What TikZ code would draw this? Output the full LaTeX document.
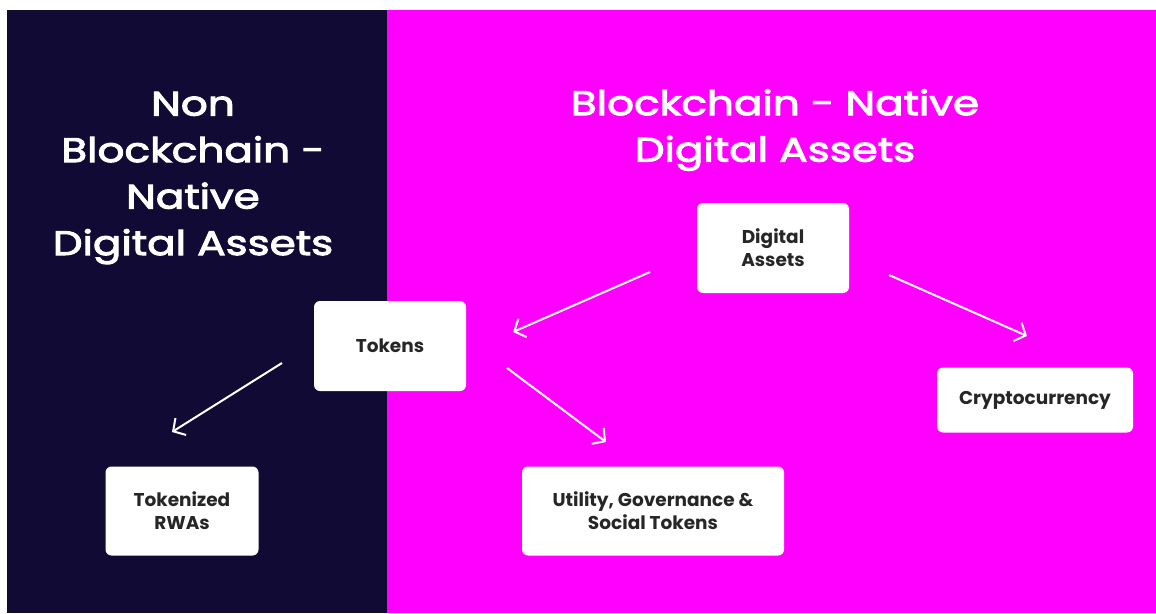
\documentclass[tikz,border=0pt]{standalone}
\usepackage{fontspec}
\setmainfont{Poppins}
\newfontfamily\titlefont{Poppins}[FakeStretch=1.24, FakeBold=3]
\usetikzlibrary{positioning, arrows.meta}

\definecolor{navypanel}{HTML}{100A35}
\definecolor{magentapanel}{HTML}{FF00FF}

\tikzset{
    assetbox/.style={fill=white, rounded corners=6pt, inner sep=0pt, align=center,
        font=\fontsize{18.5}{23}\selectfont\bfseries, text=black!85},
    paneltitle/.style={text=white, align=center, font=\titlefont\fontsize{34}{46.5}\selectfont},
    flowarrow/.style={white, line width=2pt, -{Straight Barb[length=9pt, width=20pt, line width=2pt]}},
}

\begin{document}
\begin{tikzpicture}[x=1pt, y=-1pt]
    \useasboundingbox (0,0) rectangle (1156,613);

    % background panels
    \fill[navypanel] (7,10) rectangle (387,613);
    \fill[magentapanel] (387,10) rectangle (1156,613);

    % titles
    \node[paneltitle] (lefttitle) at (193,178) {Non\\Blockchain -\\Native\\Digital Assets};
    \node[paneltitle] (righttitle) at (775,130) {Blockchain - Native\\Digital Assets};

    % boxes
    \node[assetbox, minimum width=152pt, minimum height=90pt] (digital) at (773,248) {Digital\\Assets};
    \node[assetbox, minimum width=152pt, minimum height=90pt] (tokens) at (390,346) {Tokens};
    \node[assetbox, minimum width=196pt, minimum height=65pt] (crypto) at (1035,400) {Cryptocurrency};
    \node[assetbox, minimum width=153pt, minimum height=89pt] (rwa) at (182,511) {Tokenized\\RWAs};
    \node[assetbox, minimum width=262pt, minimum height=89pt] (utility) at (653,511) {Utility, Governance \&\\Social Tokens};

    % arrow ends
    \coordinate (digitalL) at (650,272);
    \coordinate (tokensTip) at (513,332);
    \coordinate (digitalR) at (889,275);
    \coordinate (cryptoTip) at (1027,336);
    \coordinate (tokensL) at (282,363);
    \coordinate (rwaTip) at (172,432);
    \coordinate (tokensR) at (507,368);
    \coordinate (utilityTip) at (606,442);

    \draw[flowarrow] (digitalL) -- (tokensTip);
    \draw[flowarrow] (digitalR) -- (cryptoTip);
    \draw[flowarrow] (tokensL) -- (rwaTip);
    \draw[flowarrow] (tokensR) -- (utilityTip);

\end{tikzpicture}
\end{document}
